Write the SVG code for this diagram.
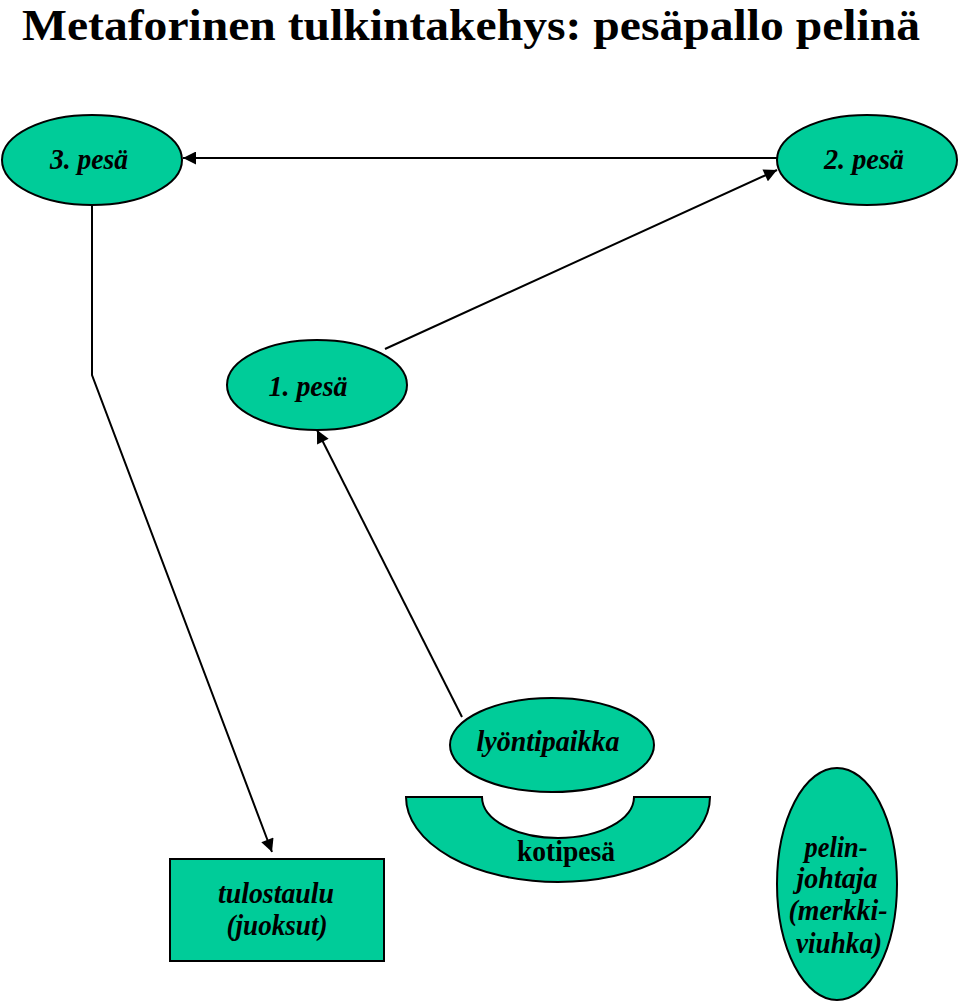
<svg xmlns="http://www.w3.org/2000/svg" width="960" height="1005" viewBox="0 0 960 1005">
<style>
.n{fill:#00cc99;stroke:#000;stroke-width:2}
.t{font-family:"Liberation Serif","Times New Roman",serif;font-size:30px;font-weight:bold;font-style:italic;fill:#000;text-anchor:middle}
.c{fill:none;stroke:#000;stroke-width:2}
</style>
<defs>
<marker id="a" viewBox="0 0 10 10" refX="10" refY="5" markerWidth="15" markerHeight="13" markerUnits="userSpaceOnUse" orient="auto"><path d="M0,0L10,5L0,10z" fill="#000"/></marker>
</defs>
<rect width="960" height="1005" fill="#fff"/>
<text x="22" y="40" font-family="Liberation Serif,serif" font-size="44" font-weight="bold" textLength="898" lengthAdjust="spacingAndGlyphs">Metaforinen tulkintakehys: pesäpallo pelinä</text>
<g id="connectors">
<path class="c" d="M777,158L183,158" marker-end="url(#a)"/>
<path class="c" d="M385,349L777,170" marker-end="url(#a)"/>
<path class="c" d="M92,205L92,375L272,852" marker-end="url(#a)"/>
<path class="c" d="M462,717L317,430" marker-end="url(#a)"/>
</g>
<g id="pesa3"><ellipse class="n" cx="92" cy="160" rx="90" ry="45"/><text class="t" x="89" y="169" textLength="78" lengthAdjust="spacingAndGlyphs">3. pesä</text></g>
<g id="pesa2"><ellipse class="n" cx="867" cy="160" rx="90" ry="45"/><text class="t" x="864" y="169" textLength="80" lengthAdjust="spacingAndGlyphs">2. pesä</text></g>
<g id="pesa1"><ellipse class="n" cx="317" cy="385" rx="90" ry="45"/><text class="t" x="308" y="396" textLength="79" lengthAdjust="spacingAndGlyphs">1. pesä</text></g>
<g id="lyontipaikka"><ellipse class="n" cx="552" cy="745" rx="102" ry="47"/><text class="t" x="548" y="751" textLength="143" lengthAdjust="spacingAndGlyphs">lyöntipaikka</text></g>
<g id="kotipesa"><path class="n" d="M406,797L482,797A76,41 0 0 0 634,797L710,797A152,85 0 0 1 406,797z"/><text class="t" x="566" y="861" style="font-style:normal" textLength="98" lengthAdjust="spacingAndGlyphs">kotipesä</text></g>
<g id="tulostaulu"><rect class="n" x="170" y="859" width="214" height="102"/><text class="t" x="276" y="903" textLength="116" lengthAdjust="spacingAndGlyphs">tulostaulu</text><text class="t" x="277" y="935" textLength="101" lengthAdjust="spacingAndGlyphs">(juoksut)</text></g>
<g id="pelinjohtaja"><ellipse class="n" cx="837" cy="884" rx="60" ry="116"/><text class="t" x="836" y="857" textLength="63" lengthAdjust="spacingAndGlyphs">pelin-</text><text class="t" x="837" y="888" textLength="81" lengthAdjust="spacingAndGlyphs">johtaja</text><text class="t" x="838" y="920" textLength="99" lengthAdjust="spacingAndGlyphs">(merkki-</text><text class="t" x="839" y="953" textLength="86" lengthAdjust="spacingAndGlyphs">viuhka)</text></g>
</svg>
